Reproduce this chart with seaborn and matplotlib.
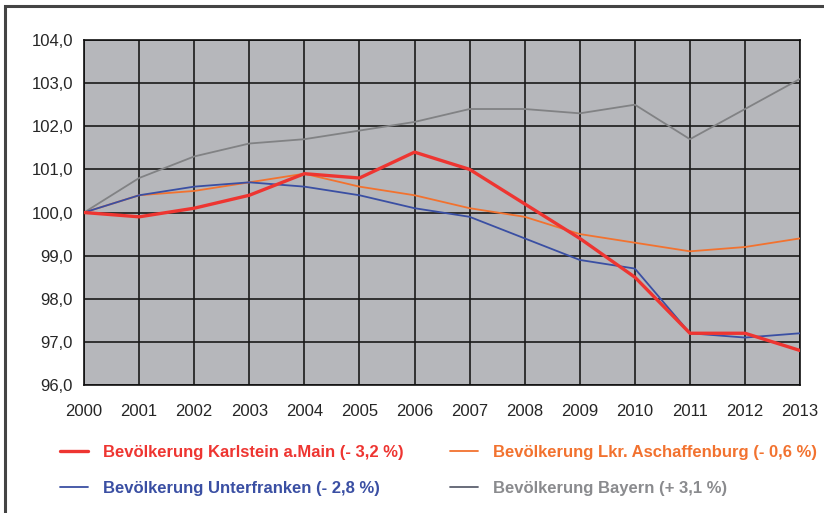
import numpy as np
import pandas as pd
import matplotlib
matplotlib.use("Agg")
import matplotlib.pyplot as plt
from matplotlib.ticker import FuncFormatter, MultipleLocator
from matplotlib.patches import Rectangle
import seaborn as sns

# Daten (Index 2000 = 100)
jahre = list(range(2000, 2014))
karlstein = [100.0, 99.9, 100.1, 100.4, 100.9, 100.8, 101.4, 101.0, 100.2, 99.4, 98.5, 97.2, 97.2, 96.8]
aschaffenburg = [100.0, 100.4, 100.5, 100.7, 100.9, 100.6, 100.4, 100.1, 99.9, 99.5, 99.3, 99.1, 99.2, 99.4]
unterfranken = [100.0, 100.4, 100.6, 100.7, 100.6, 100.4, 100.1, 99.9, 99.4, 98.9, 98.7, 97.2, 97.1, 97.2]
bayern = [100.0, 100.8, 101.3, 101.6, 101.7, 101.9, 102.1, 102.4, 102.4, 102.3, 102.5, 101.7, 102.4, 103.1]

labels = [
    "Bevölkerung Karlstein a.Main (- 3,2 %)",
    "Bevölkerung Unterfranken (- 2,8 %)",
    "Bevölkerung Lkr. Aschaffenburg (- 0,6 %)",
    "Bevölkerung Bayern (+ 3,1 %)",
]
reihen = [karlstein, unterfranken, aschaffenburg, bayern]
farben = ["#ee3531", "#3a4fa3", "#f2722f", "#818284"]
textfarben = ["#ee3531", "#3a4fa3", "#f2722f", "#8a8b8e"]
breiten = [2.4, 1.3, 1.3, 1.3]

sns.set_style("white")
plt.rcParams["font.family"] = ["Liberation Sans", "DejaVu Sans"]

fig = plt.figure(figsize=(8.24, 5.13), dpi=100)
ax = fig.add_axes([0.102, 0.2495, 0.869, 0.6725])
ax.set_facecolor("#b6b7bb")

# Rahmen um die Grafik
fig.patches.append(Rectangle((5 / 824, -0.1), 1.2, 1 - 6 / 513 + 0.1, transform=fig.transFigure,
                             fill=False, edgecolor="#444444", linewidth=2.2, zorder=0))

# Zeichenreihenfolge: Bayern, Aschaffenburg, Unterfranken, Karlstein oben
order = [3, 2, 1, 0]
for i in order:
    df = pd.DataFrame({"Jahr": jahre, "Wert": reihen[i]})
    sns.lineplot(data=df, x="Jahr", y="Wert", ax=ax, color=farben[i], linewidth=breiten[i],
                 label=labels[i], zorder=3 + (3 - i))

ax.set_xlim(2000, 2013)
ax.set_ylim(96, 104)
ax.xaxis.set_major_locator(MultipleLocator(1))
ax.xaxis.set_minor_locator(MultipleLocator(0.5))
ax.yaxis.set_major_locator(MultipleLocator(1))
ax.yaxis.set_major_formatter(FuncFormatter(lambda v, p: f"{v:.1f}".replace(".", ",")))
ax.grid(True, which="major", color="#1a1a1a", linewidth=1.2, zorder=1)
ax.set_axisbelow(True)
ax.set_xlabel("")
ax.set_ylabel("")
ax.tick_params(axis="x", which="major", direction="out", length=8, width=1, color="#222222",
               labelsize=12, pad=6)
ax.tick_params(axis="x", which="minor", direction="out", length=4, width=1, color="#222222")
ax.tick_params(axis="y", which="major", direction="out", length=5, width=1, color="#222222",
               labelsize=12, pad=3)
for s in ax.spines.values():
    s.set_color("#111111")
    s.set_linewidth(1.2)

handles, labs = ax.get_legend_handles_labels()
hmap = dict(zip(labs, handles))
ax.get_legend().remove()
leg = fig.legend([hmap[l] for l in labels], labels, ncol=2, loc="upper left",
                 bbox_to_anchor=(60 / 824, 1 - 445 / 513), frameon=False, borderpad=0,
                 borderaxespad=0, handlelength=1.7,
                 columnspacing=2.75, labelspacing=1.25, handletextpad=0.9,
                 prop={"weight": "bold", "size": 12})
for t, c in zip(leg.get_texts(), textfarben):
    t.set_color(c)
leg.legend_handles[3].set_color("#5d6170")

fig.savefig("out.png", dpi=100)
